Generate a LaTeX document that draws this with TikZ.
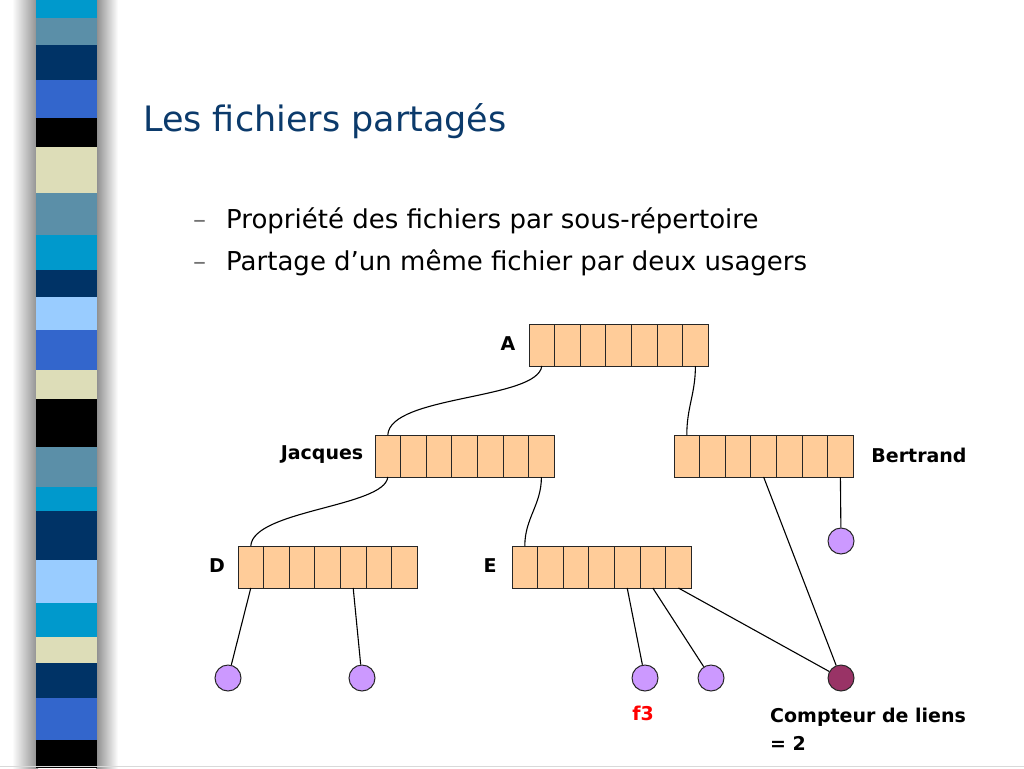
\documentclass[tikz,border=0pt]{standalone}
\usepackage{fontspec}
\setmainfont{DejaVu Sans}
\definecolor{peach}{HTML}{FFCC99}
\definecolor{lilac}{HTML}{CC99FF}
\definecolor{plum}{HTML}{993366}
\definecolor{navy}{HTML}{003366}
\definecolor{cyanb}{HTML}{0099CC}
\definecolor{steel}{HTML}{5B8FA8}
\definecolor{royal}{HTML}{3366CC}
\definecolor{cream}{HTML}{DDDDB8}
\definecolor{lightb}{HTML}{99CCFF}
\definecolor{titleblue}{HTML}{0B3A6B}
\tikzset{
  cell/.style={draw=black!85, line width=1pt, fill=peach, minimum width=25.6pt, minimum height=42pt, inner sep=0pt, outer sep=0pt},
  leaf/.style={circle, draw=black!85, line width=1pt, fill=lilac, minimum size=26pt, inner sep=0pt},
  shared/.style={leaf, fill=plum},
  lbl/.style={font=\bfseries\fontsize{19}{24}\selectfont, inner sep=0pt},
  link/.style={line width=1.1pt, black}
}
\begin{document}
\begin{tikzpicture}[x=1pt,y=-1pt]
\useasboundingbox (0,0) rectangle (1024,768);
\fill[white] (0,0) rectangle (1024,768);
% shadow of stripe
\shade[left color=white, right color=black!45] (12,0) rectangle (38,768);
\shade[left color=black!45, right color=white] (96,0) rectangle (118,768);
% stripes
\foreach \ya/\yb/\c in {0/18/cyanb, 18/45/steel, 45/80/navy, 80/118/royal, 118/147/black, 147/193/cream, 193/235/steel, 235/270/cyanb, 270/297/navy, 297/330/lightb, 330/370/royal, 370/399/cream, 399/447/black, 447/487/steel, 487/511/cyanb, 511/560/navy, 560/603/lightb, 603/637/cyanb, 637/663/cream, 663/698/navy, 698/740/royal, 740/768/black}
  \fill[\c] (36,\ya) rectangle (97,\yb);
\draw[black!15, line width=1pt] (0,766.5) -- (1024,766.5);
% title and bullets
\node[anchor=base west, inner sep=0pt, text=titleblue, font=\fontsize{35}{40}\selectfont] (title) at (143,131) {Les fichiers partagés};
\node[anchor=base west, inner sep=0pt, text=black!55, font=\fontsize{26}{30}\selectfont] (d1) at (193,228) {–};
\node[anchor=base west, inner sep=0pt, font=\fontsize{26}{30}\selectfont] (b1) at (226,228) {Propriété des fichiers par sous-répertoire};
\node[anchor=base west, inner sep=0pt, text=black!55, font=\fontsize{26}{30}\selectfont] (d2) at (193,270) {–};
\node[anchor=base west, inner sep=0pt, font=\fontsize{26}{30}\selectfont] (b2) at (226,270) {Partage d’un même fichier par deux usagers};
% directories
\foreach \n/\x/\y in {A/529/345, J/375/456, B/674/456, D/238/567, E/512/567}
  \foreach \i in {1,...,7}
    \node[cell] (\n\i) at ({\x+25.6*(\i-0.5)},\y) {};
% labels
\node[lbl] (lA) at (508,344) {A};
\node[lbl] (lJ) at (322,455) {Jacques};
\node[lbl] (lB) at (919,455) {Bertrand};
\node[lbl] (lD) at (217,566) {D};
\node[lbl] (lE) at (490,566) {E};
% files
\node[leaf] (fd1) at (228,678) {};
\node[leaf] (fd2) at (362,678) {};
\node[leaf] (f3) at (645,678) {};
\node[leaf] (fe2) at (711,678) {};
\node[shared] (fs) at (841,678) {};
\node[leaf] (fb) at (841,541) {};
\node[lbl, text=red] (lf3) at (643,713) {f3};
\node[lbl, anchor=north west, align=left, font=\bfseries\fontsize{19}{28}\selectfont] (lc) at (770,708) {Compteur de liens\\= 2};
% links
\draw[link] (A1.south) .. controls +(-4,34) and +(2,-40) .. (J1.north);
\draw[link] (A7.south) .. controls +(0,28) and +(0,-28) .. (B1.north);
\draw[link] (J1.south) .. controls +(-3,30) and +(2,-36) .. (D1.north);
\draw[link] (J7.south) .. controls +(0,28) and +(0,-28) .. (E1.north);
\draw[link] (D1.south) -- (fd1);
\draw[link] (D5.south) -- (fd2);
\draw[link] (E5.south) -- (f3);
\draw[link] (E6.south) -- (fe2);
\draw[link] (E7.south) -- (fs);
\draw[link] (B4.south) -- (fs);
\draw[link] (B7.south) -- (fb);
\end{tikzpicture}
\end{document}
